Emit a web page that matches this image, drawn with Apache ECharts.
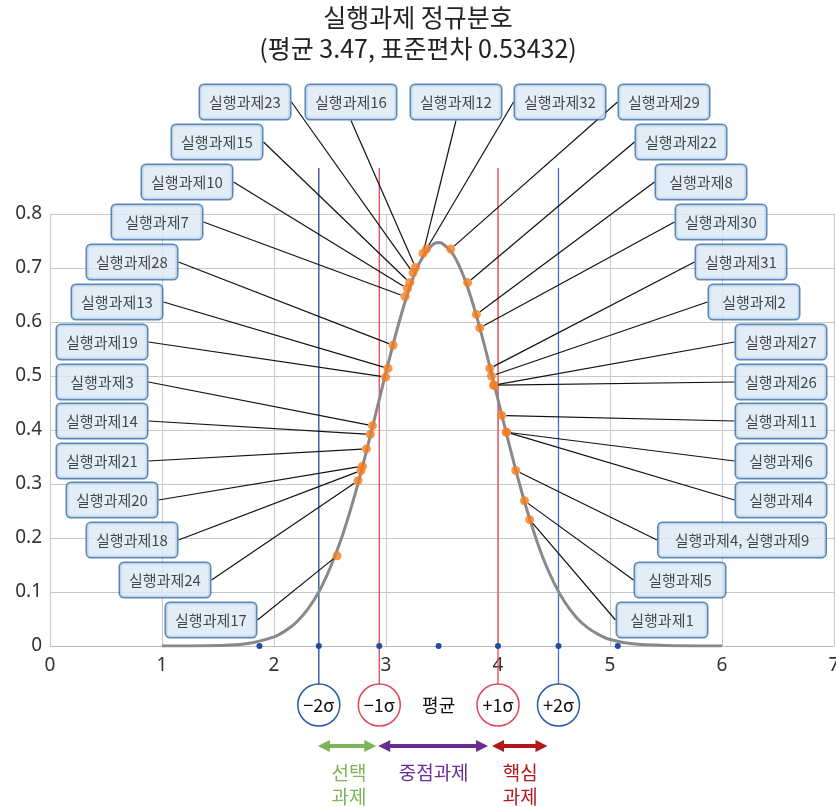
<!DOCTYPE html>
<html>
<head>
<meta charset="utf-8">
<script src="https://cdn.jsdelivr.net/npm/echarts@6/dist/echarts.min.js"></script>
<style>
  html, body { margin: 0; padding: 0; background: #fff; }
  #chart { width: 836px; height: 807px; }
</style>
</head>
<body>
<div id="chart"></div>
<script>
// tasks (x = score, y = density on the curve)
const taskNames = [
  "실행과제32", "실행과제12", "실행과제16", "실행과제23", "실행과제15", "실행과제10",
  "실행과제7", "실행과제28", "실행과제13", "실행과제19", "실행과제3", "실행과제14",
  "실행과제21", "실행과제20", "실행과제18", "실행과제24", "실행과제17",
  "실행과제29", "실행과제22", "실행과제8", "실행과제30", "실행과제31", "실행과제2",
  "실행과제27", "실행과제26", "실행과제11", "실행과제6", "실행과제4",
  "실행과제4, 실행과제9", "실행과제5", "실행과제1"
];
const taskX = [
  3.361, 3.330, 3.263, 3.241, 3.212, 3.191,
  3.170, 3.063, 3.018, 2.997, 2.879, 2.861,
  2.825, 2.789, 2.777, 2.750, 2.563,
  3.578, 3.729, 3.807, 3.837, 3.926, 3.941,
  3.962, 3.962, 4.033, 4.075, 4.075,
  4.158, 4.236, 4.283
];
const taskY = [
  0.735, 0.727, 0.701, 0.691, 0.673, 0.662,
  0.647, 0.557, 0.514, 0.498, 0.408, 0.392,
  0.365, 0.333, 0.325, 0.306, 0.167,
  0.735, 0.673, 0.614, 0.589, 0.514, 0.500,
  0.483, 0.483, 0.427, 0.396, 0.396,
  0.325, 0.269, 0.234
];

// the grey curve
const curveX = [1.0, 1.5, 1.75, 2.0, 2.1, 2.2, 2.3, 2.4, 2.5, 2.6, 2.7, 2.8, 2.9, 3.0,
  3.1, 3.2, 3.3, 3.4, 3.47, 3.5, 3.6, 3.7, 3.8, 3.9, 4.0, 4.1, 4.2, 4.3, 4.4, 4.5,
  4.6, 4.7, 4.8, 4.9, 5.0, 5.2, 5.5, 6.0];
const curveY = [0.000, 0.001, 0.004, 0.017, 0.028, 0.044, 0.068, 0.100, 0.144, 0.198,
  0.264, 0.340, 0.423, 0.507, 0.587, 0.657, 0.710, 0.740, 0.747, 0.746, 0.725, 0.681,
  0.617, 0.540, 0.456, 0.373, 0.294, 0.224, 0.164, 0.117, 0.080, 0.053, 0.034, 0.021,
  0.012, 0.004, 0.001, 0.000];

// mean -3σ .. +3σ marks on the axis
const sigmaX = [1.87, 2.40, 2.94, 3.47, 4.00, 4.54, 5.07];
const sigmaNames = ["", "−2σ", "−1σ", "평균", "+1σ", "+2σ", ""];

const xTicks = [0, 1, 2, 3, 4, 5, 6, 7];
const yTicks = [0, 0.1, 0.2, 0.3, 0.4, 0.5, 0.6, 0.7, 0.8];

// where each label box sits (pixel centres)
const labelPos = [
  [560, 102], [456, 102], [351, 102], [245, 102], [217, 142], [187, 182],
  [157, 222], [132, 262], [117, 302], [102, 342], [102, 382], [102, 421],
  [102, 461], [112, 500], [132, 540], [165, 580], [211, 620],
  [664, 102], [681, 142], [701, 182], [721, 222], [741, 262], [754, 302],
  [781, 342], [781, 382], [781, 421], [781, 461], [781, 500],
  [742, 540], [680, 580], [662, 620]
];

const FONT = "'Noto Sans CJK KR', 'Noto Sans', sans-serif";

const chart = echarts.init(document.getElementById("chart"));

const taskData = taskNames.map((n, i) => {
  const item = { name: n, value: [taskX[i], taskY[i]] };
  if (n.length > 8) item.label = { width: 155 };
  return item;
});

const option = {
  animation: false,
  title: {
    text: "실행과제 정규분호\n(평균 3.47, 표준편차 0.53432)",
    left: "center",
    top: 2,
    padding: 0,
    textStyle: {
      fontFamily: FONT,
      fontSize: 25,
      lineHeight: 31,
      fontWeight: "normal",
      color: "#222",
    },
  },
  grid: { left: 50, right: 2, top: 214, bottom: 161, outerBoundsMode: "none", containLabel: false },
  xAxis: {
    type: "value",
    min: xTicks[0],
    max: xTicks[xTicks.length - 1],
    interval: 1,
    axisLine: { show: true, lineStyle: { color: "#bdbdbd" } },
    axisTick: { show: false },
    splitLine: { lineStyle: { color: "#c8c8c8" } },
    axisLabel: { fontFamily: "'Noto Sans', sans-serif", fontSize: 19, color: "#333", margin: 10 },
  },
  yAxis: {
    type: "value",
    min: yTicks[0],
    max: yTicks[yTicks.length - 1],
    interval: 0.1,
    axisLine: { show: true, lineStyle: { color: "#c8c8c8" } },
    axisTick: { show: false },
    splitLine: { lineStyle: { color: "#c8c8c8" } },
    axisLabel: { fontFamily: "'Noto Sans', sans-serif", fontSize: 19, color: "#333", margin: 8 },
  },
  series: [
    {
      name: "curve",
      type: "line",
      data: curveX.map((x, i) => [x, curveY[i]]),
      showSymbol: false,
      smooth: 0.3,
      silent: true,
      lineStyle: { color: "#898989", width: 3 },
      z: 2,
    },
    {
      name: "tasks",
      type: "scatter",
      data: taskData,
      symbolSize: 9,
      itemStyle: { color: "#f27d21" },
      z: 4,
      label: {
        show: true,
        formatter: "{b}",
        fontFamily: FONT,
        fontSize: 15,
        lineHeight: 20,
        color: "#1a1a1a",
        width: 78,
        align: "center",
        backgroundColor: "#dce8f5",
        borderColor: "#2f6aa6",
        borderWidth: 1.5,
        borderRadius: 4,
        padding: [7, 6],
      },
      labelLine: {
        show: true,
        length2: 0,
        lineStyle: { color: "#111", width: 1.2 },
      },
      labelLayout: function (params) {
        const p = labelPos[params.dataIndex];
        return {
          x: p[0],
          y: p[1],
          align: "center",
          verticalAlign: "middle",
          hideOverlap: false,
        };
      },
    },
  ],
};

chart.setOption(option);

// annotations under the plot, placed from the axis scale
const px = (x) => chart.convertToPixel({ gridIndex: 0 }, [x, 0])[0];
const y0 = chart.convertToPixel({ gridIndex: 0 }, [0, 0])[1];
const BLUE = "#2a5aa8";
const RED = "#e0475b";
const g = [];

const lineColors = [null, "#1f4b96", RED, null, RED, "#4a72c0", null];
sigmaX.forEach((sx, i) => {
  const x = px(sx);
  if (lineColors[i]) {
    g.push({
      type: "line",
      shape: { x1: x, y1: 168, x2: x, y2: 684 },
      style: { stroke: lineColors[i], lineWidth: 1.3 },
      z: 1,
    });
  }
  g.push({
    type: "circle",
    shape: { cx: x, cy: y0, r: 3 },
    style: { fill: "#1f4e9a" },
    z: 10,
  });
  if (sigmaNames[i]) {
    const circled = i !== 3;
    if (circled) {
      g.push({
        type: "circle",
        shape: { cx: x, cy: 705, r: 21 },
        style: { fill: "#fff", stroke: i === 1 || i === 5 ? BLUE : RED, lineWidth: 1.5 },
        z: 10,
      });
    }
    g.push({
      type: "text",
      x: x,
      y: 705,
      style: {
        text: sigmaNames[i],
        fontFamily: FONT,
        fontSize: 18,
        fill: "#111",
        align: "center",
        verticalAlign: "middle",
      },
      z: 11,
    });
  }
});

function arrow(x1, x2, y, color) {
  const h = 12, w = 6;
  g.push({
    type: "line",
    shape: { x1: x1 + h - 1, y1: y, x2: x2 - h + 1, y2: y },
    style: { stroke: color, lineWidth: 4 },
  });
  g.push({
    type: "polygon",
    shape: { points: [[x1, y], [x1 + h, y - w], [x1 + h, y + w]] },
    style: { fill: color },
  });
  g.push({
    type: "polygon",
    shape: { points: [[x2, y], [x2 - h, y - w], [x2 - h, y + w]] },
    style: { fill: color },
  });
}

function caption(x, text, color) {
  g.push({
    type: "text",
    x: x,
    y: 761,
    style: {
      text: text,
      fontFamily: FONT,
      fontSize: 19,
      lineHeight: 24,
      fill: color,
      align: "center",
      verticalAlign: "top",
    },
  });
}

const sx = sigmaX.map(px);
arrow(sx[1] - 1, sx[2] - 3, 746, "#7db45a");
arrow(sx[2] - 1, sx[4] - 10, 746, "#6a2c94");
arrow(sx[4] - 6, sx[5] - 11, 746, "#b3171c");
caption((sx[1] + sx[2]) / 2, "선택\n과제", "#7db45a");
caption((sx[2] + sx[4]) / 2 - 5, "중점과제", "#6a2c94");
caption((sx[4] + sx[5]) / 2 - 8, "핵심\n과제", "#b3171c");

chart.setOption({ graphic: g });
</script>
</body>
</html>
